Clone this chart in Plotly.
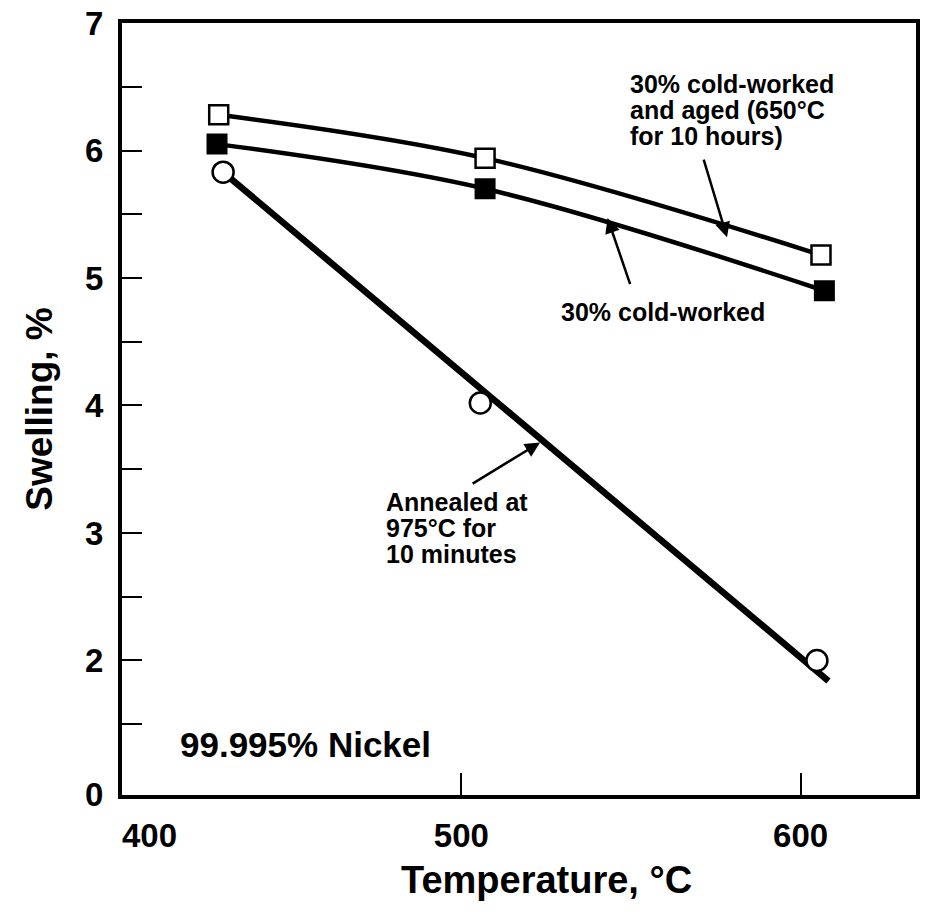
import plotly.graph_objects as go

# ---- data ----
temp_aged = [428.5, 507.0, 606.0]
swell_aged = [6.28, 5.94, 5.18]

temp_cw = [428.0, 507.0, 607.0]
swell_cw = [6.05, 5.70, 4.90]

temp_ann = [429.8, 505.6, 604.8]
swell_ann = [5.83, 4.02, 2.00]

# fitted straight line drawn through the annealed data
fit_ann_x = [429.8, 608.2]
fit_ann_y = [5.83, 1.84]

x_tick_vals = [400, 500, 600]
x_tick_text = ["\u00a0" * 6 + "400", "500", "600"]
y_tick_vals = [0.95, 1.5, 2, 2.5, 3, 3.5, 4, 4.5, 5, 5.5, 6, 6.5, 7]
y_tick_text = ["0", "", "2", "", "3", "", "4", "", "5", "", "6", "", "7"]

label_aged = ["30% cold-worked", "and aged (650°C", "for 10 hours)"]
label_cw = ["30% cold-worked"]
label_ann = ["Annealed at", "975°C for", "10 minutes"]
label_material = "99.995% Nickel"
x_title = "Temperature, °C"
y_title = "Swelling, %"

FONT = "Liberation Sans, Arial, Helvetica, sans-serif"

fig = go.Figure()

# lines (drawn first so markers sit on top)
fig.add_trace(go.Scatter(x=temp_aged, y=swell_aged, mode="lines",
                         line=dict(color="black", width=4.5, shape="spline", smoothing=1.0),
                         showlegend=False, hoverinfo="skip"))
fig.add_trace(go.Scatter(x=temp_cw, y=swell_cw, mode="lines",
                         line=dict(color="black", width=4.5, shape="spline", smoothing=1.0),
                         showlegend=False, hoverinfo="skip"))
fig.add_trace(go.Scatter(x=fit_ann_x, y=fit_ann_y, mode="lines",
                         line=dict(color="black", width=6.5),
                         showlegend=False, hoverinfo="skip"))

# markers
fig.add_trace(go.Scatter(x=temp_aged, y=swell_aged, mode="markers",
                         marker=dict(symbol="square", size=19, color="white",
                                     line=dict(color="black", width=2.5)),
                         name="30% cold-worked and aged", showlegend=False))
fig.add_trace(go.Scatter(x=temp_cw, y=swell_cw, mode="markers",
                         marker=dict(symbol="square", size=19, color="black",
                                     line=dict(color="black", width=2)),
                         name="30% cold-worked", showlegend=False))
fig.add_trace(go.Scatter(x=temp_ann, y=swell_ann, mode="markers",
                         marker=dict(symbol="circle", size=21, color="white",
                                     line=dict(color="black", width=2.5)),
                         name="Annealed", showlegend=False))

txt_font = dict(family=FONT, size=25, color="black", weight="bold")
LINE_GAP = 26  # px between text lines

annotations = []


def text_block(lines, x, y, anchor):
    for i, line in enumerate(lines):
        annotations.append(dict(text=line, x=x, y=y, xref="x", yref="y",
                                showarrow=False, xanchor=anchor, yanchor="middle",
                                yshift=-LINE_GAP * i, font=txt_font))


text_block(label_aged, 549.0, 6.52, "left")
text_block(label_cw, 559.5, 4.73, "center")
text_block(label_ann, 477.1, 3.24, "left")

arrow = dict(xref="x", yref="y", axref="x", ayref="y", showarrow=True, arrowhead=2,
             arrowsize=1.2, arrowwidth=2.5, arrowcolor="black", text="")
annotations += [
    dict(x=578.3, y=5.32, ax=571.3, ay=5.94, **arrow),
    dict(x=543.1, y=5.47, ax=549.9, ay=4.94, **arrow),
    dict(x=523.2, y=3.71, ax=502.9, ay=3.38, **arrow),
    dict(text=label_material, x=0.07, y=0.065, xref="paper", yref="paper", showarrow=False,
         xanchor="left", yanchor="middle",
         font=dict(family=FONT, size=35, color="black", weight="bold")),
    # x-axis title (placed slightly right of centre, as in the original)
    dict(text=x_title, x=0.535, y=-0.11, xref="paper", yref="paper", showarrow=False,
         xanchor="center", yanchor="middle",
         font=dict(family=FONT, size=38, color="black", weight="bold")),
]

fig.update_layout(
    width=925, height=914,
    margin=dict(l=122, r=5, t=22, b=119),
    paper_bgcolor="white", plot_bgcolor="white",
    font=dict(family=FONT, color="black"),
    annotations=annotations,
    showlegend=False,
)

fig.update_xaxes(
    range=[400, 634], showgrid=False, zeroline=False,
    showline=True, linecolor="black", linewidth=4, mirror=True,
    tickmode="array", tickvals=x_tick_vals, ticktext=x_tick_text,
    ticks="inside", ticklen=22, tickwidth=2, tickcolor="black",
    tickfont=dict(family=FONT, size=33, color="black", weight="bold"),
    ticklabelstandoff=8,
)
fig.update_yaxes(
    range=[0.945, 7.0], showgrid=False, zeroline=False,
    showline=True, linecolor="black", linewidth=4, mirror=True,
    tickmode="array", tickvals=y_tick_vals, ticktext=y_tick_text,
    ticks="inside", ticklen=20, tickwidth=2, tickcolor="black",
    tickfont=dict(family=FONT, size=33, color="black", weight="bold"),
    ticklabelstandoff=8,
    title=dict(text=y_title, standoff=22,
               font=dict(family=FONT, size=37, color="black", weight="bold")),
)

fig.write_html("out.html")
